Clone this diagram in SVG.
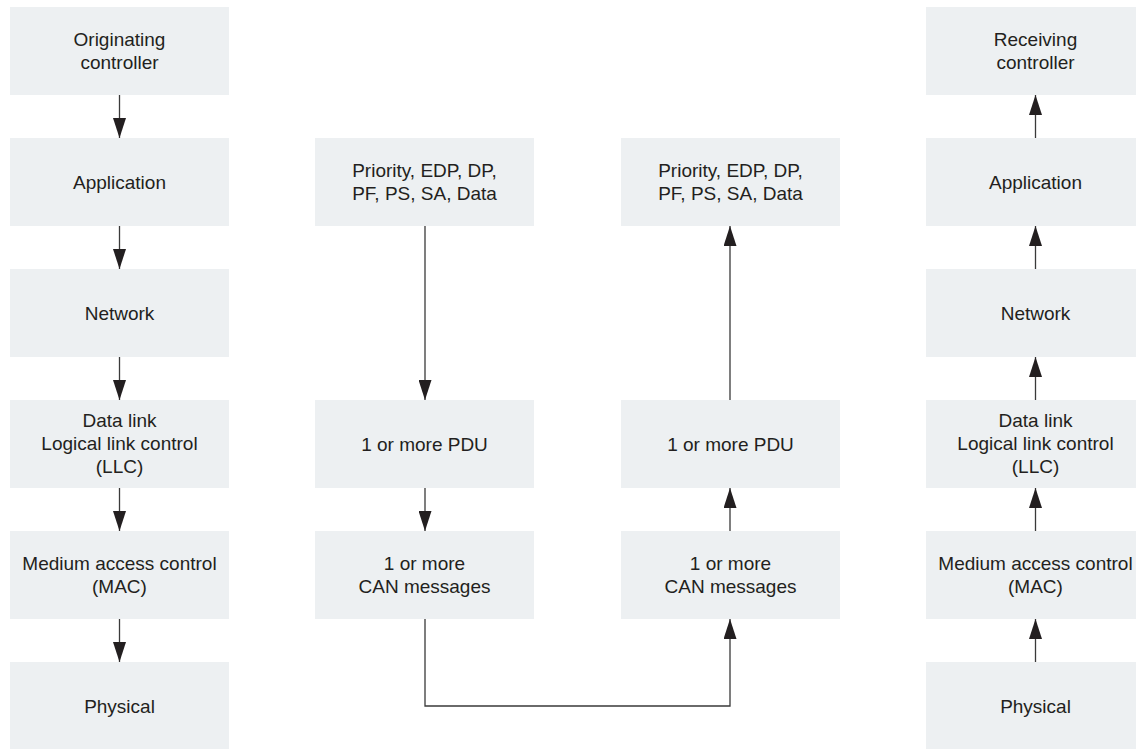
<svg xmlns="http://www.w3.org/2000/svg" width="1136" height="749" viewBox="0 0 1136 749">
<style>
.box{fill:#edf0f2;}
.t{font-family:"Liberation Sans",Arial,sans-serif;font-size:19px;fill:#231f20;text-anchor:middle;}
.c{fill:none;stroke:#3a3a3a;stroke-width:1.3;}
</style>
<defs>
<marker id="ah" markerUnits="userSpaceOnUse" markerWidth="20" markerHeight="13" refX="20" refY="6.5" orient="auto" viewBox="0 0 20 13">
<path d="M0,0 L20,6.5 L0,13 z" fill="#231f20"/>
</marker>
</defs>
<rect width="1136" height="749" fill="#ffffff"/>
<g id="connectors">
<line class="c" x1="119.5" y1="95" x2="119.5" y2="138" marker-end="url(#ah)"/>
<line class="c" x1="119.5" y1="226" x2="119.5" y2="269" marker-end="url(#ah)"/>
<line class="c" x1="119.5" y1="357" x2="119.5" y2="400" marker-end="url(#ah)"/>
<line class="c" x1="119.5" y1="488" x2="119.5" y2="531" marker-end="url(#ah)"/>
<line class="c" x1="119.5" y1="619" x2="119.5" y2="662" marker-end="url(#ah)"/>
<line class="c" x1="425" y1="226" x2="425" y2="400" marker-end="url(#ah)"/>
<line class="c" x1="425" y1="488" x2="425" y2="531" marker-end="url(#ah)"/>
<polyline class="c" points="425,619 425,706 730,706 730,619" marker-end="url(#ah)"/>
<line class="c" x1="730" y1="531" x2="730" y2="488" marker-end="url(#ah)"/>
<line class="c" x1="730" y1="400" x2="730" y2="226" marker-end="url(#ah)"/>
<line class="c" x1="1035.5" y1="662" x2="1035.5" y2="619" marker-end="url(#ah)"/>
<line class="c" x1="1035.5" y1="531" x2="1035.5" y2="488" marker-end="url(#ah)"/>
<line class="c" x1="1035.5" y1="400" x2="1035.5" y2="357" marker-end="url(#ah)"/>
<line class="c" x1="1035.5" y1="269" x2="1035.5" y2="226" marker-end="url(#ah)"/>
<line class="c" x1="1035.5" y1="138" x2="1035.5" y2="95" marker-end="url(#ah)"/>
</g>
<g id="orig-controller"><rect class="box" x="10" y="7" width="219" height="88"/><text class="t" x="119.5" y="45.5">Originating</text><text class="t" x="119.5" y="68.5">controller</text></g>
<g id="orig-application"><rect class="box" x="10" y="138" width="219" height="88"/><text class="t" x="119.5" y="188.5">Application</text></g>
<g id="orig-network"><rect class="box" x="10" y="269" width="219" height="88"/><text class="t" x="119.5" y="319.5">Network</text></g>
<g id="orig-datalink"><rect class="box" x="10" y="400" width="219" height="88"/><text class="t" x="119.5" y="427">Data link</text><text class="t" x="119.5" y="450">Logical link control</text><text class="t" x="119.5" y="473">(LLC)</text></g>
<g id="orig-mac"><rect class="box" x="10" y="531" width="219" height="88"/><text class="t" x="119.5" y="569.5">Medium access control</text><text class="t" x="119.5" y="592.5">(MAC)</text></g>
<g id="orig-physical"><rect class="box" x="10" y="662" width="219" height="88"/><text class="t" x="119.5" y="712.5">Physical</text></g>

<g id="tx-fields"><rect class="box" x="315" y="138" width="219" height="88"/><text class="t" x="424.5" y="176.5">Priority, EDP, DP,</text><text class="t" x="424.5" y="199.5">PF, PS, SA, Data</text></g>
<g id="tx-pdu"><rect class="box" x="315" y="400" width="219" height="88"/><text class="t" x="424.5" y="450.5">1 or more PDU</text></g>
<g id="tx-can"><rect class="box" x="315" y="531" width="219" height="88"/><text class="t" x="424.5" y="569.5">1 or more</text><text class="t" x="424.5" y="592.5">CAN messages</text></g>

<g id="rx-fields"><rect class="box" x="621" y="138" width="219" height="88"/><text class="t" x="730.5" y="176.5">Priority, EDP, DP,</text><text class="t" x="730.5" y="199.5">PF, PS, SA, Data</text></g>
<g id="rx-pdu"><rect class="box" x="621" y="400" width="219" height="88"/><text class="t" x="730.5" y="450.5">1 or more PDU</text></g>
<g id="rx-can"><rect class="box" x="621" y="531" width="219" height="88"/><text class="t" x="730.5" y="569.5">1 or more</text><text class="t" x="730.5" y="592.5">CAN messages</text></g>

<g id="recv-controller"><rect class="box" x="926" y="7" width="219" height="88"/><text class="t" x="1035.5" y="45.5">Receiving</text><text class="t" x="1035.5" y="68.5">controller</text></g>
<g id="recv-application"><rect class="box" x="926" y="138" width="219" height="88"/><text class="t" x="1035.5" y="188.5">Application</text></g>
<g id="recv-network"><rect class="box" x="926" y="269" width="219" height="88"/><text class="t" x="1035.5" y="319.5">Network</text></g>
<g id="recv-datalink"><rect class="box" x="926" y="400" width="219" height="88"/><text class="t" x="1035.5" y="427">Data link</text><text class="t" x="1035.5" y="450">Logical link control</text><text class="t" x="1035.5" y="473">(LLC)</text></g>
<g id="recv-mac"><rect class="box" x="926" y="531" width="219" height="88"/><text class="t" x="1035.5" y="569.5">Medium access control</text><text class="t" x="1035.5" y="592.5">(MAC)</text></g>
<g id="recv-physical"><rect class="box" x="926" y="662" width="219" height="88"/><text class="t" x="1035.5" y="712.5">Physical</text></g>
</svg>
